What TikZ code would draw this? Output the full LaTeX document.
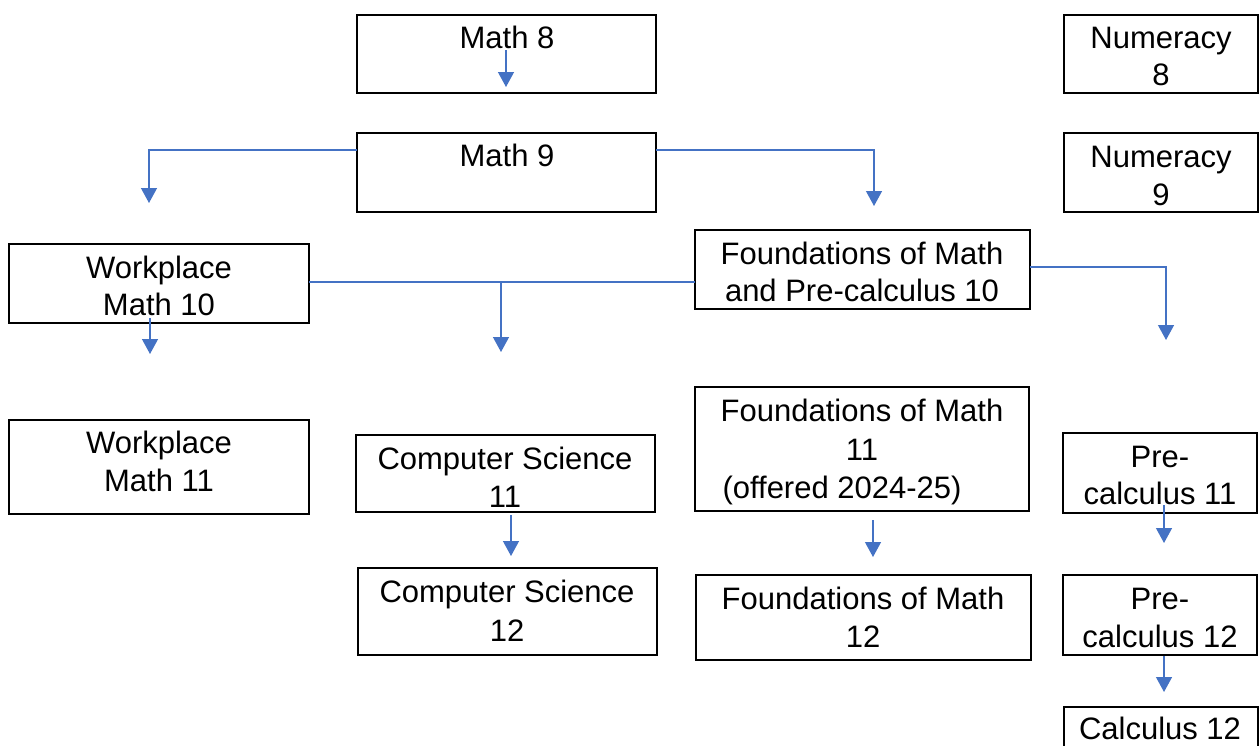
\documentclass[tikz,border=0pt]{standalone}
\usepackage{fontspec}
\setmainfont{Liberation Sans}
\usetikzlibrary{arrows.meta}
\definecolor{conn}{HTML}{4472C4}
\newcommand\mybox[5]{\node[box,minimum width=#4-#2,minimum height=#5-#3,anchor=north west] (#1) at (#2,#3) {};}
\begin{document}
\begin{tikzpicture}[x=1pt,y=-1pt,
  box/.style={draw=black,line width=1.2pt,inner sep=0pt,outer sep=0pt,rectangle},
  txt/.style={inner sep=0pt,font=\fontsize{31}{38}\selectfont,text=black},
  conn/.style={draw=conn,line width=1.3pt},
  arr/.style={conn,-{Triangle[width=16pt,length=15pt]}}]
\useasboundingbox (0,0) rectangle (1260,745);
\clip (0,0) rectangle (1260,745);
% boxes
\mybox{m8}{357}{15}{656}{93}
\mybox{n8}{1064}{15}{1258}{93}
\mybox{m9}{357}{133}{656}{212}
\mybox{n9}{1064}{133}{1258}{212}
\mybox{w10}{9}{244}{309}{323}
\mybox{f10}{695}{230}{1030}{309}
\mybox{w11}{9}{420}{309}{514}
\mybox{cs11}{356}{435}{655}{512}
\mybox{f11}{695}{387}{1029}{511}
\mybox{p11}{1063}{433}{1257}{513}
\mybox{cs12}{358}{568}{657}{655}
\mybox{f12}{696}{575}{1031}{660}
\mybox{p12}{1063}{575}{1257}{655}
\mybox{c12}{1064}{707}{1258}{760}
% texts
\node[txt,anchor=base] (m8t) at (507,48) {Math 8};
\node[txt,anchor=base] (n8t1) at (1161,48) {Numeracy};
\node[txt,anchor=base] (n8t2) at (1161,85) {8};
\node[txt,anchor=base] (m9t) at (507,166) {Math 9};
\node[txt,anchor=base] (n9t1) at (1161,167) {Numeracy};
\node[txt,anchor=base] (n9t2) at (1161,205) {9};
\node[txt,anchor=base] (w10t1) at (159,278) {Workplace};
\node[txt,anchor=base] (w10t2) at (159,315) {Math 10};
\node[txt,anchor=base] (f10t1) at (862,264) {Foundations of Math};
\node[txt,anchor=base] (f10t2) at (862,301) {and Pre-calculus 10};
\node[txt,anchor=base] (w11t1) at (159,453) {Workplace};
\node[txt,anchor=base] (w11t2) at (159,491) {Math 11};
\node[txt,anchor=base] (cs11t1) at (505,469) {Computer Science};
\node[txt,anchor=base] (cs11t2) at (505,507) {11};
\node[txt,anchor=base] (f11t1) at (862,421) {Foundations of Math};
\node[txt,anchor=base] (f11t2) at (862,460) {11};
\node[txt,anchor=base] (f11t3) at (842,498) {(offered 2024-25)};
\node[txt,anchor=base] (p11t1) at (1160,467) {Pre-};
\node[txt,anchor=base] (p11t2) at (1160,504) {calculus 11};
\node[txt,anchor=base] (cs12t1) at (507,602) {Computer Science};
\node[txt,anchor=base] (cs12t2) at (507,641) {12};
\node[txt,anchor=base] (f12t1) at (863,609) {Foundations of Math};
\node[txt,anchor=base] (f12t2) at (863,647) {12};
\node[txt,anchor=base] (p12t1) at (1160,609) {Pre-};
\node[txt,anchor=base] (p12t2) at (1160,647) {calculus 12};
\node[txt,anchor=base] (c12t) at (1160,739) {Calculus 12};
% connector points
\coordinate (a1s) at (506,50);  \coordinate (a1e) at (506,87);
\coordinate (a2s) at (357,150); \coordinate (a2e) at (149,203);
\coordinate (a3s) at (656,150); \coordinate (a3e) at (874,206);
\coordinate (a4s) at (309,282); \coordinate (a4e) at (695,282);
\coordinate (a4b) at (501,282); \coordinate (a4be) at (501,352);
\coordinate (a5s) at (150,318); \coordinate (a5e) at (150,354);
\coordinate (a6s) at (1030,267); \coordinate (a6e) at (1166,340);
\coordinate (a7s) at (511,515); \coordinate (a7e) at (511,556);
\coordinate (a8s) at (873,520); \coordinate (a8e) at (873,557);
\coordinate (a9s) at (1164,505); \coordinate (a9e) at (1164,543);
\coordinate (a10s) at (1164,656); \coordinate (a10e) at (1164,692);
% connectors
\draw[arr] (a1s) -- (a1e);
\draw[arr] (a2s) -| (a2e);
\draw[arr] (a3s) -| (a3e);
\draw[conn] (a4s) -- (a4e);
\draw[arr] (a4b) -- (a4be);
\draw[arr] (a5s) -- (a5e);
\draw[arr] (a6s) -| (a6e);
\draw[arr] (a7s) -- (a7e);
\draw[arr] (a8s) -- (a8e);
\draw[arr] (a9s) -- (a9e);
\draw[arr] (a10s) -- (a10e);
\end{tikzpicture}
\end{document}
